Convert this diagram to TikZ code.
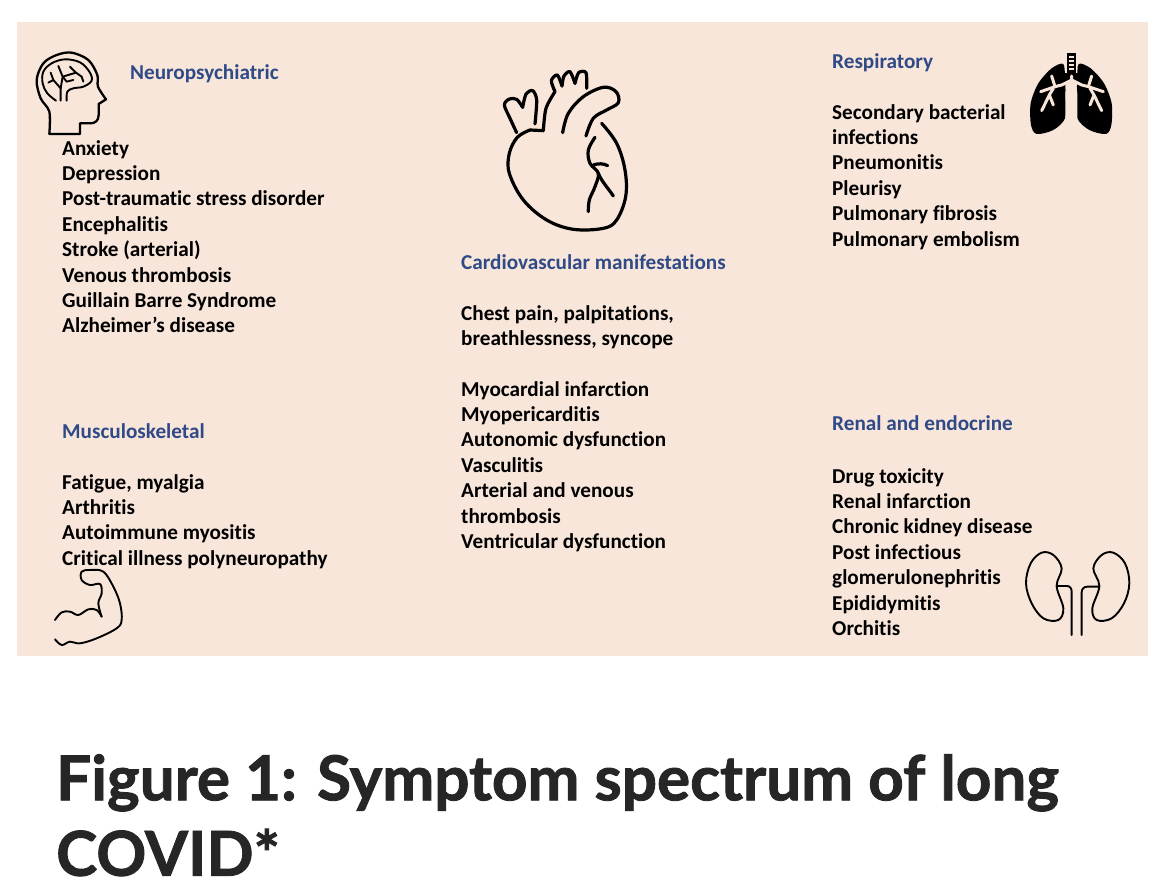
\documentclass[tikz,border=0pt]{standalone}
\usepackage{fontspec}
\setmainfont[RawFeature={-liga}]{Carlito}
\newfontfamily\titlefont[BoldFeatures={FakeBold=1.4}]{Lato}
\definecolor{panel}{HTML}{F8E6DA}
\definecolor{headblue}{HTML}{2F4A86}
\definecolor{titleink}{HTML}{262626}
\tikzset{
  x=1pt,y=-1pt,
  body/.style={anchor=north west,inner sep=0pt,align=left,text=black,font=\fontsize{21.2}{25.4}\selectfont\bfseries},
  heading/.style={anchor=north west,inner sep=0pt,align=left,text=headblue,font=\fontsize{21.2}{25.4}\selectfont\bfseries},
  figtitle/.style={anchor=north west,inner sep=0pt,align=left,text=titleink,font=\fontsize{62}{75.5}\titlefont\bfseries},
  icon/.style={draw=black,line width=2.3pt,line cap=round,line join=round},
  heavyicon/.style={draw=black,line width=3.2pt,line cap=round,line join=round},
  thinicon/.style={draw=black,line width=1.9pt,line cap=round,line join=round},
  whiteline/.style={draw=panel,line width=3pt,line cap=round,line join=round},
}
\begin{document}
\begin{tikzpicture}
\useasboundingbox (0,0) rectangle (1170,896);
\fill[white] (0,0) rectangle (1170,896);
\fill[panel] (17,22) rectangle (1148,656);

% text
\node[heading] (hneuro) at (130,64) {Neuropsychiatric};
\node[body] (tneuro) at (62,140) {Anxiety\\Depression\\Post-traumatic stress disorder\\Encephalitis\\Stroke (arterial)\\Venous thrombosis\\Guillain Barre Syndrome\\Alzheimer’s disease};
\node[heading] (hmusc) at (62,423) {Musculoskeletal};
\node[body] (tmusc) at (62,474) {Fatigue, myalgia\\Arthritis\\Autoimmune myositis\\Critical illness polyneuropathy};
\node[heading] (hcard) at (461,254) {Cardiovascular manifestations};
\node[body] (tcard1) at (461,305) {Chest pain, palpitations,\\breathlessness, syncope};
\node[body] (tcard2) at (461,381) {Myocardial infarction\\Myopericarditis\\Autonomic dysfunction\\Vasculitis\\Arterial and venous\\thrombosis\\Ventricular dysfunction};
\node[heading] (hresp) at (832,53) {Respiratory};
\node[body] (tresp) at (832,104) {Secondary bacterial\\infections\\Pneumonitis\\Pleurisy\\Pulmonary fibrosis\\Pulmonary embolism};
\node[heading] (hrenal) at (832,415) {Renal and endocrine};
\node[body] (trenal) at (832,468) {Drug toxicity\\Renal infarction\\Chronic kidney disease\\Post infectious\\glomerulonephritis\\Epididymitis\\Orchitis};
\node[figtitle] (title) at (56,754) {Figure 1: Symptom spectrum of long\\COVID*};

% head icon
\begin{scope}[shift={(20,30)},x=0.3333pt,y=-0.3333pt]
\draw[icon] plot[smooth,tension=0.55] coordinates {(88,312) (88,245) (62,205) (50,150) (70,100) (110,75) (155,68) (205,90) (232,135) (234,170) (258,208)} -- (236,222) -- (236,255) .. controls (236,272) and (225,280) .. (212,280) -- (180,280) -- (180,312) -- (88,312);
\draw[thinicon] plot[smooth,tension=0.6] coordinates {(108,212) (82,190) (68,160) (70,125) (95,100) (135,88) (180,97) (208,125) (215,152) (190,170) (160,175) (142,185) (140,212)};
\draw[thinicon] (122,212) -- (122,175) -- (100,150) -- (92,128);
\draw[thinicon] (122,175) -- (128,140) -- (115,108);
\draw[thinicon] (128,140) -- (168,128) -- (185,140) -- (190,155);
\draw[thinicon] (168,128) -- (150,110);
\draw[thinicon] (100,150) -- (85,158);
\draw[thinicon] (128,140) -- (140,155) -- (160,150);
\end{scope}

% heart icon
\begin{scope}[shift={(480,50)},x=0.3333pt,y=-0.3333pt]
\draw[heavyicon] plot[smooth,tension=0.6] coordinates {(150,240) (112,262) (88,310) (88,370) (130,450) (200,510) (280,538) (370,535) (410,510) (437,440) (435,360) (410,280) (365,220)};
\draw[heavyicon] (190,242) -- (150,240);
\draw[heavyicon] plot[smooth,tension=0.5] coordinates {(110,248) (90,205) (73,165) (88,147) (110,148) (128,172)};
\draw[heavyicon] plot[smooth,tension=0.5] coordinates {(128,172) (138,132) (158,122) (170,150) (165,222)};
\draw[heavyicon] plot[smooth,tension=0.5] coordinates {(190,242) (198,175) (225,125)};
\draw[heavyicon] plot[smooth,tension=0.5] coordinates {(225,125) (214,92) (232,75) (246,108)};
\draw[heavyicon] plot[smooth,tension=0.5] coordinates {(246,108) (252,78) (270,65) (285,100)};
\draw[heavyicon] plot[smooth,tension=0.5] coordinates {(285,100) (296,68) (318,68) (320,115)};
\draw[heavyicon] plot[smooth,tension=0.6] coordinates {(248,248) (265,190) (310,140) (370,112) (408,125) (415,158) (380,180) (340,205) (318,258)};
\draw[heavyicon] plot[smooth,tension=0.6] coordinates {(345,262) (325,300) (330,340) (355,370) (345,410) (328,450) (325,485)};
\draw[heavyicon] (340,345) .. controls (355,340) and (370,340) .. (383,347);
\draw[heavyicon] (355,370) .. controls (365,395) and (385,415) .. (400,438);
\end{scope}

% lungs icon
\begin{scope}[shift={(1020,40)},x=0.3333pt,y=-0.3333pt]
\fill[black] plot[smooth cycle,tension=0.5] coordinates {(130,72) (95,85) (55,130) (32,190) (33,255) (50,282) (100,270) (135,235) (137,170) (135,120)};
\fill[black] plot[smooth cycle,tension=0.5] coordinates {(176,72) (212,85) (252,130) (275,190) (274,255) (258,282) (208,270) (172,235) (170,170) (172,120)};
\fill[black] (140,38) rectangle (168,108);
\fill[black] (130,100) rectangle (177,125);
\foreach \yy in {48,60,72,84}{\fill[panel] (147,\yy) rectangle (162,\yy+6);}
\fill[panel] (136,165) .. controls (136,142) and (145,130) .. (155,130) .. controls (165,130) and (172,142) .. (172,165) -- (172,260) -- (136,260) -- cycle;
\draw[whiteline] (155,108) -- (155,120) -- (125,135) -- (105,140) -- (62,155);
\draw[whiteline] (155,120) -- (185,135) -- (205,140) -- (250,155);
\draw[whiteline] (105,140) -- (95,108);
\draw[whiteline] (205,140) -- (215,108);
\draw[whiteline] (100,145) -- (88,165) -- (65,212);
\draw[whiteline] (88,165) -- (100,195);
\draw[whiteline] (210,145) -- (222,165) -- (245,212);
\draw[whiteline] (222,165) -- (210,195);
\end{scope}

% kidneys icon
\begin{scope}[shift={(1010,540)},x=0.3333pt,y=-0.3333pt]
\draw[thinicon] plot[smooth cycle,tension=0.6] coordinates {(140,138) (155,85) (130,45) (95,38) (62,70) (48,130) (65,190) (100,235) (145,240) (160,205)};
\draw[thinicon] plot[smooth cycle,tension=0.6] coordinates {(268,138) (250,85) (275,45) (310,38) (345,70) (358,130) (342,190) (305,235) (260,240) (247,205)};
\draw[thinicon] (140,138) -- (170,138) .. controls (180,138) and (185,145) .. (185,155) -- (185,285);
\draw[thinicon] (268,140) -- (232,140) .. controls (222,140) and (215,147) .. (215,157) -- (215,285);
\end{scope}

% muscle icon
\begin{scope}[shift={(40,560)},x=0.3333pt,y=-0.3333pt]
\draw[thinicon] plot[smooth,tension=0.6] coordinates {(45,180) (65,157) (90,155) (115,165) (145,148) (170,150) (185,170)};
\draw[thinicon] plot[smooth,tension=0.6] coordinates {(185,170) (175,130) (185,100) (180,72) (150,75) (125,60) (125,35) (150,30) (190,35) (220,80) (240,130) (245,180) (230,205) (170,235) (120,250) (90,245) (65,255) (45,238)};
\end{scope}
\end{tikzpicture}
\end{document}
